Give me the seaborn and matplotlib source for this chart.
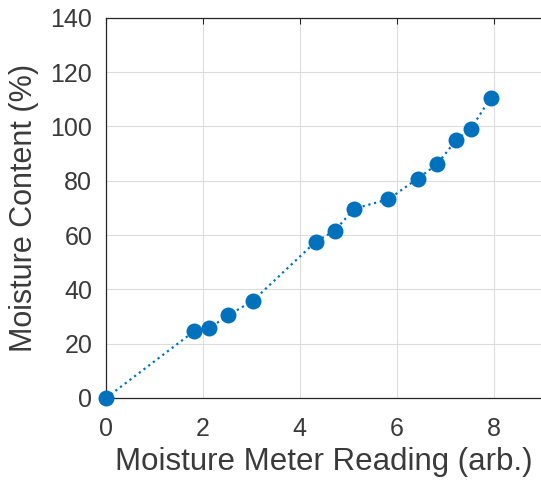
import numpy as np
import pandas as pd
import matplotlib
matplotlib.use("Agg")
import matplotlib.pyplot as plt
import seaborn as sns

# Data
meter_reading = [0.0, 1.82, 2.12, 2.52, 3.03, 4.33, 4.72, 5.12, 5.83, 6.43, 6.83, 7.23, 7.53, 7.94]
moisture_content = [0.0, 24.6, 25.6, 30.4, 35.8, 57.6, 61.6, 69.7, 73.2, 80.8, 86.0, 95.1, 99.1, 110.6]
x_ticks = [0, 2, 4, 6, 8]
y_ticks = [0, 20, 40, 60, 80, 100, 120, 140]

df = pd.DataFrame({"reading": meter_reading, "moisture": moisture_content})

sns.set_style("whitegrid")
plt.rcParams["font.family"] = ["Liberation Sans", "DejaVu Sans"]

fig = plt.figure(figsize=(5.41, 4.83), dpi=100)
# x axis runs off the right edge of the picture, like the reference
ax = fig.add_axes([0.196, 0.176, 0.806, 0.787])

blue = "#0072BD"
text_grey = "#3a3a3a"
sns.lineplot(data=df, x="reading", y="moisture", ax=ax, color=blue,
             linestyle=":", linewidth=1.6, marker="o", markersize=11.5,
             markeredgewidth=0, clip_on=False, zorder=3)

ax.set_xlim(0, 9)
ax.set_ylim(0, 140)
ax.set_xticks(x_ticks)
ax.set_yticks(y_ticks)
ax.grid(True, color="#dcdcdc", linewidth=0.8)
ax.tick_params(direction="in", length=4, color="#262626", labelsize=18,
               labelcolor=text_grey, top=True, right=False)
ax.tick_params(axis="x", pad=14)
ax.tick_params(axis="y", pad=10)
for s in ax.spines.values():
    s.set_color("#262626")
    s.set_linewidth(0.9)
ax.spines["right"].set_visible(False)

ax.set_xlabel("Moisture Meter Reading (arb.)", fontsize=22.5, color=text_grey, labelpad=4)
ax.set_ylabel("Moisture Content (%)", fontsize=22, color=text_grey, labelpad=8)

fig.savefig("out.png", dpi=100)
